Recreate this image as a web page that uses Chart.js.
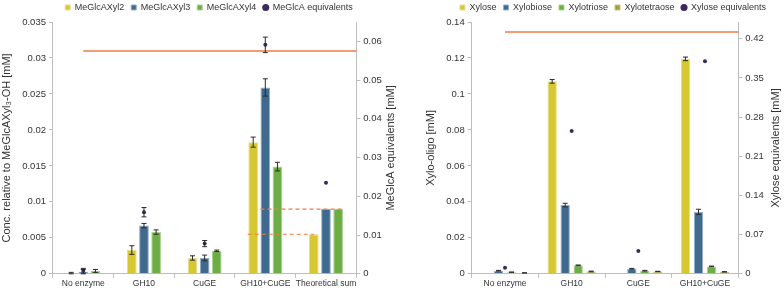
<!DOCTYPE html>
<html>
<head>
<meta charset="utf-8">
<script src="https://cdn.jsdelivr.net/npm/chart.js@4/dist/chart.umd.min.js"></script>
<style>
  body { margin: 0; background: #fff; }
  #wrap { position: relative; width: 784px; height: 288px; }
  canvas { position: absolute; top: 0; }
</style>
</head>
<body>
<div id="wrap">
  <canvas id="left" width="400" height="288" style="left:0"></canvas>
  <canvas id="right" width="384" height="288" style="left:400px"></canvas>
</div>
<script>
// ---- left panel data ----
var leftLabels = ["No enzyme", "GH10", "CuGE", "GH10+CuGE", "Theoretical sum"];
var xyl2 = [0.0001, 0.0033, 0.0022, 0.0183, 0.0055];
var xyl2Err = [0.0001, 0.0006, 0.0003, 0.0007, 0];
var xyl3 = [0.0003, 0.0067, 0.0022, 0.0259, 0.009];
var xyl3Err = [0.0003, 0.0003, 0.0004, 0.0012, 0];
var xyl4 = [0.0004, 0.0058, 0.0032, 0.0149, 0.009];
var xyl4Err = [0.0002, 0.0003, 0.0001, 0.0006, 0];
var meglcaEq = [0.0008, 0.0159, 0.0078, 0.0591, 0.0235];
var meglcaEqErr = [0.0006, 0.0012, 0.0008, 0.002, 0];
// reference lines, x in category units (0 = first category centre)
var leftRefX = [0, 4.5];
var leftRefY = [0.0575, 0.0575];
var sumUpperX = [2.92, 4.27];
var sumUpperY = [0.009, 0.009];
var sumLowerX = [2.71, 3.8];
var sumLowerY = [0.0055, 0.0055];

// ---- right panel data ----
var rightLabels = ["No enzyme", "GH10", "CuGE", "GH10+CuGE"];
var xylose = [0.0001, 0.107, 0.0002, 0.1195];
var xyloseErr = [0, 0.001, 0, 0.001];
var xylobiose = [0.0017, 0.0382, 0.0028, 0.0344];
var xylobioseErr = [0.0002, 0.001, 0.0002, 0.0015];
var xylotriose = [0.0009, 0.0047, 0.0017, 0.0041];
var xylotrioseErr = [0.0001, 0.0002, 0.0002, 0.0002];
var xylotetraose = [0.0005, 0.0013, 0.0013, 0.0011];
var xylotetraoseErr = [0.0001, 0.0002, 0.0001, 0.0001];
var xyloseEq = [0.0108, 0.255, 0.0408, 0.38];
var rightRefX = [0, 3.5];
var rightRefY = [0.432, 0.432];

var YELLOW = "#D6C832", BLUE = "#3F6A8E", GREEN = "#6DAD45", OLIVE = "#A39B38", PURPLE = "#3B2B5C", ORANGE = "#F47A45";
var AXIS = "#BDBDBD", TXT = "#333333";
var FONT = "'Liberation Sans', Arial, sans-serif";

var errorBars = {
  id: "errorBars",
  afterDatasetsDraw: function (chart) {
    var ctx = chart.ctx;
    chart.data.datasets.forEach(function (ds, di) {
      if (!ds.errors) return;
      var meta = chart.getDatasetMeta(di);
      var ys = chart.scales[meta.yAxisID];
      meta.data.forEach(function (el, i) {
        var e = ds.errors[i];
        if (!e) return;
        var v = ds.data[i];
        var t = ys.getPixelForValue(v + e), b = ys.getPixelForValue(v - e);
        ctx.save();
        ctx.strokeStyle = "#2b2b2b";
        ctx.lineWidth = 1;
        ctx.beginPath();
        ctx.moveTo(el.x, t); ctx.lineTo(el.x, b);
        ctx.moveTo(el.x - 2.5, t); ctx.lineTo(el.x + 2.5, t);
        ctx.moveTo(el.x - 2.5, b); ctx.lineTo(el.x + 2.5, b);
        ctx.stroke();
        ctx.restore();
      });
    });
  }
};

// orange lines placed with the category axis (fractional positions allowed)
function refLines(lines) {
  return {
    id: "refLines",
    afterDatasetsDraw: function (chart) {
      var xs = chart.scales.x, ctx = chart.ctx;
      lines.forEach(function (ln) {
        var ys = chart.scales[ln.axis];
        ctx.save();
        ctx.strokeStyle = ORANGE;
        ctx.lineWidth = ln.dash ? 1.2 : 1.5;
        ctx.setLineDash(ln.dash || []);
        ctx.beginPath();
        ln.x.forEach(function (xv, i) {
          var px = xs.getPixelForValue(xv), py = ys.getPixelForValue(ln.y[i]);
          if (i) ctx.lineTo(px, py); else ctx.moveTo(px, py);
        });
        ctx.stroke();
        ctx.restore();
      });
    }
  };
}

// right-hand axis titles read bottom-to-top in the original, so the
// library title is kept only for spacing and the text is drawn turned the other way
var rightTitle = {
  id: "rightTitle",
  afterDraw: function (chart) {
    var s = chart.scales.y1, t = s.options.title;
    var f = Chart.helpers.toFont(t.font);
    var pad = Chart.helpers.toPadding(t.padding);
    var x = s.right - pad.top - f.lineHeight / 2;
    var ctx = chart.ctx;
    ctx.save();
    ctx.translate(x, (s.top + s.bottom) / 2);
    ctx.rotate(-Math.PI / 2);
    ctx.font = f.string;
    ctx.fillStyle = TXT;
    ctx.textAlign = "center";
    ctx.textBaseline = "middle";
    ctx.fillText(t.text, 0, 0);
    ctx.restore();
  }
};

function bar(label, data, errs, color, border, cp, bp) {
  return { type: "bar", label: label, data: data, errors: errs, backgroundColor: color,
    borderColor: border, borderWidth: 1, pointStyle: "rect", yAxisID: "y", xAxisID: "x",
    categoryPercentage: cp, barPercentage: bp };
}
function dots(label, data, errs) {
  return { type: "line", label: label, data: data, errors: errs, showLine: false, pointStyle: "circle",
    pointRadius: 2, backgroundColor: PURPLE, borderColor: PURPLE, borderWidth: 0, yAxisID: "y1", xAxisID: "x" };
}

function numLabel(v) { return String(+v.toFixed(4)); }

function yAxis(pos, max, step, title, pad, hidden) {
  return {
    type: "linear", position: pos, min: 0, max: max,
    grid: { drawOnChartArea: false, drawTicks: true, tickLength: 4, color: AXIS },
    border: { color: AXIS },
    ticks: { stepSize: step, includeBounds: false, padding: 3, color: TXT, font: { family: FONT, size: 9.5 }, callback: numLabel },
    title: { display: true, text: title, color: hidden ? "rgba(0,0,0,0)" : TXT, font: { family: FONT, size: 11 }, padding: pad }
  };
}

function baseOptions(yl, yr, padding, legendPad) {
  return {
    responsive: false, animation: false,
    layout: { padding: padding },
    plugins: {
      legend: {
        position: "top",
        labels: { usePointStyle: true, boxWidth: 5, boxHeight: 5, padding: legendPad, color: TXT,
          font: { family: FONT, size: 9 } }
      },
      tooltip: { enabled: false }
    },
    scales: {
      x: {
        type: "category", offset: true,
        grid: { offset: true, drawOnChartArea: false, drawTicks: true, tickLength: 4, color: AXIS },
        border: { color: AXIS },
        ticks: { padding: 1, color: TXT, maxRotation: 0, autoSkip: false, font: { family: FONT, size: 8.5 } }
      },
      y: yl,
      y1: yr
    }
  };
}

new Chart(document.getElementById("left").getContext("2d"), {
  type: "bar",
  data: {
    labels: leftLabels,
    datasets: [
      bar("MeGlcAXyl2", xyl2, xyl2Err, YELLOW, "#E9E08C", 0.6, 0.8),
      bar("MeGlcAXyl3", xyl3, xyl3Err, BLUE, "#93AECB", 0.6, 0.8),
      bar("MeGlcAXyl4", xyl4, xyl4Err, GREEN, "#AAD38F", 0.6, 0.8),
      dots("MeGlcA equivalents", meglcaEq, meglcaEqErr)
    ]
  },
  options: baseOptions(
    yAxis("left", 0.035, 0.005, "Conc. relative to MeGlcAXyl\u2083-OH [mM]", { top: -18, bottom: 6 }),
    yAxis("right", 0.065, 0.01, "MeGlcA equivalents [mM]", { top: 2, bottom: 0 }, true),
    { top: -4, left: 18, right: 0, bottom: -2 }, 7),
  plugins: [refLines([
    { x: leftRefX, y: leftRefY, axis: "y1" },
    { x: sumUpperX, y: sumUpperY, axis: "y", dash: [4, 3] },
    { x: sumLowerX, y: sumLowerY, axis: "y", dash: [4, 3] }
  ]), errorBars, rightTitle]
});

new Chart(document.getElementById("right").getContext("2d"), {
  type: "bar",
  data: {
    labels: rightLabels,
    datasets: [
      bar("Xylose", xylose, xyloseErr, YELLOW, "#E9E08C", 0.78, 0.72),
      bar("Xylobiose", xylobiose, xylobioseErr, BLUE, "#93AECB", 0.78, 0.72),
      bar("Xylotriose", xylotriose, xylotrioseErr, GREEN, "#AAD38F", 0.78, 0.72),
      bar("Xylotetraose", xylotetraose, xylotetraoseErr, OLIVE, "#C9C382", 0.78, 0.72),
      dots("Xylose equivalents", xyloseEq, null)
    ]
  },
  options: baseOptions(
    yAxis("left", 0.14, 0.02, "Xylo-oligo [mM]", { top: -18, bottom: 6 }),
    yAxis("right", 0.45, 0.07, "Xylose equivalents [mM]", { top: 1, bottom: 3 }, true),
    { top: -4, left: 42, right: 0, bottom: -2 }, 7),
  plugins: [refLines([{ x: rightRefX, y: rightRefY, axis: "y1" }]), errorBars, rightTitle]
});
</script>
</body>
</html>
